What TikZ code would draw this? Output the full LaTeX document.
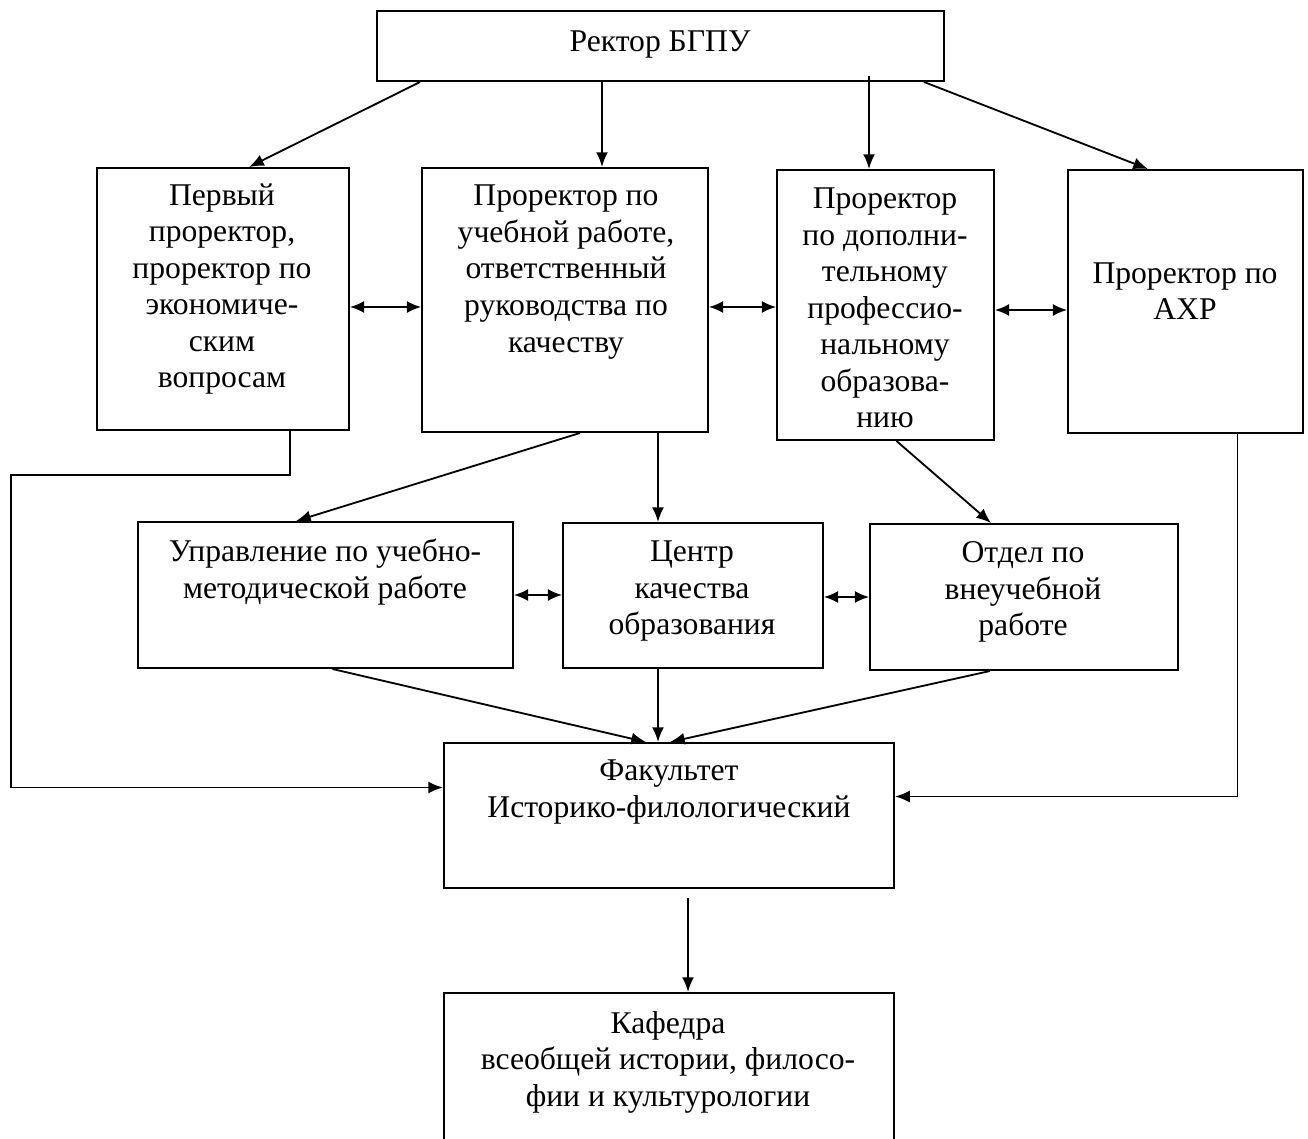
\documentclass[tikz,border=0pt]{standalone}
\usepackage{fontspec}
\setmainfont{Liberation Serif}
\usetikzlibrary{arrows.meta, positioning, calc}

\begin{document}
\begin{tikzpicture}[
    x=0.025cm, y=-0.025cm,
    unit/.style={rectangle, draw, line width=1.4pt, inner sep=0pt},
    sz/.style 2 args={minimum width=#1*0.025cm, minimum height=#2*0.025cm},
    txt/.style={align=center, inner sep=0pt, font=\fontsize{22.5}{26}\selectfont},
    arrow/.style={line width=1.3pt, -{Latex[length=10.5pt,width=8.5pt]}},
    biarrow/.style={line width=1.3pt, {Latex[length=10pt,width=8.5pt]}-{Latex[length=10pt,width=8.5pt]}}
]
    \clip (0,0) rectangle (1308,1138);

    % boxes
    \node[unit, sz={567}{70}] (rector) at (660.5,46) {};
    \node[unit, sz={252}{262}] (pr1) at (223,299) {};
    \node[unit, sz={286}{264}] (pr2) at (565,300) {};
    \node[unit, sz={217}{270}] (pr3) at (885.5,305) {};
    \node[unit, sz={235}{263}] (pr4) at (1185.5,301.5) {};
    \node[unit, sz={375}{146}] (um) at (325.5,595) {};
    \node[unit, sz={260}{145}] (cq) at (693,595.5) {};
    \node[unit, sz={308}{146}] (ov) at (1024,597) {};
    \node[unit, sz={450}{145}] (fac) at (669,815.5) {};
    \node[unit, sz={450}{170}] (kaf) at (669,1078) {};

    % texts
    \node[txt] (rectortxt) at (660,45) {Ректор БГПУ};
    \node[txt] (pr1txt) at (222,289) {Первый\\проректор,\\проректор по\\экономиче-\\ским\\вопросам};
    \node[txt] (pr2txt) at (566,272) {Проректор по\\учебной работе,\\ответственный\\руководства по\\качеству};
    \node[txt] (pr3txt) at (885,308) {Проректор\\по дополни-\\тельному\\профессио-\\нальному\\образова-\\нию};
    \node[txt] (pr4txt) at (1185,291) {Проректор по\\АХР};
    \node[txt] (umtxt) at (325,572) {Управление по учебно-\\методической работе};
    \node[txt] (cqtxt) at (692,591) {Центр\\качества\\образования};
    \node[txt] (ovtxt) at (1023,592) {Отдел по\\внеучебной\\работе};
    \node[txt] (factxt) at (669,792) {Факультет\\Историко-филологический};
    \node[txt] (kaftxt) at (668,1062) {Кафедра\\всеобщей истории, филосо-\\фии и культурологии};

    \coordinate (lbend) at (11,475);

    % Arrows
    \draw[arrow] ($(rector.south west)+(44,0)$) -- ($(pr1.north west)+(153,0)$);
    \draw[arrow] ($(rector.south west)+(226,0)$) coordinate (r2) -- (r2 |- pr2.north);
    \draw[arrow] ($(rector.south west)+(493,-6)$) coordinate (r3) -- (r3 |- pr3.north);
    \draw[arrow] ($(rector.south east)+(-21,0)$) -- ($(pr4.north west)+(81,0)$);
    \draw[biarrow] ($(pr1.east)+(0,8)$) coordinate (b1) -- (b1 -| pr2.west);
    \draw[biarrow] ($(pr2.east)+(0,7)$) coordinate (b2) -- (b2 -| pr3.west);
    \draw[biarrow] ($(pr3.east)+(0,5)$) coordinate (b3) -- (b3 -| pr4.west);
    \draw[arrow] ($(pr1.south)+(67,0)$) |- (lbend) |- ($(fac.west)+(0,-28)$);
    \draw[arrow] ($(pr4.south)+(52,0)$) |- ($(fac.east)+(0,-19)$);
    \draw[arrow] ($(pr2.south)+(15,0)$) -- ($(um.north west)+(159,0)$);
    \draw[arrow] ($(pr2.south)+(93,0)$) coordinate (c1) -- (c1 |- cq.north);
    \draw[arrow] ($(pr3.south)+(11,0)$) -- ($(ov.north west)+(122,0)$);
    \draw[biarrow] (um.east) -- (um.east -| cq.west);
    \draw[biarrow] ($(cq.east)+(0,1.5)$) coordinate (b4) -- (b4 -| ov.west);
    \draw[arrow] ($(um.south)+(7,0)$) -- ($(fac.north)+(-23,0)$);
    \draw[arrow] (c1 |- cq.south) -- (c1 |- fac.north);
    \draw[arrow] ($(ov.south)+(-34,0)$) -- ($(fac.north)+(1,0)$);
    \draw[arrow] ($(fac.south)+(19,9)$) coordinate (f1) -- (f1 |- kaf.north);
\end{tikzpicture}
\end{document}
